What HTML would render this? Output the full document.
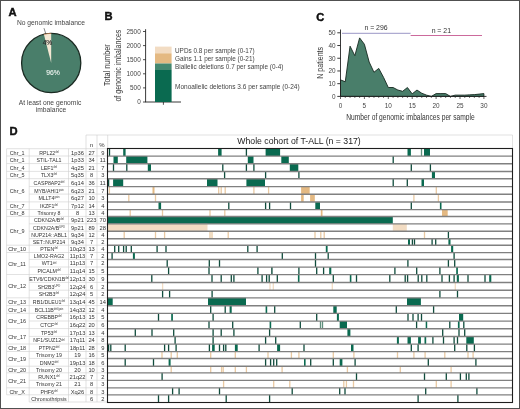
<!DOCTYPE html>
<html><head><meta charset="utf-8"><style>
html,body{margin:0;padding:0;background:#fff;}
body{width:520px;height:409px;overflow:hidden;}
svg{display:block;font-family:"Liberation Sans", sans-serif;will-change:transform;}
</style></head><body>
<svg width="520" height="409" viewBox="0 0 520 409">
<rect x="0" y="0" width="520" height="409" fill="#fff"/>
<text transform="translate(8.60,16.00)" font-size="11.2" text-anchor="start" fill="#111" font-weight="bold" stroke="#111" stroke-width="0.45">A</text>
<text transform="translate(50.90,25.10)" font-size="6.7" text-anchor="middle" fill="#444">No genomic imbalance</text>
<circle cx="51.2" cy="63.0" r="29.6" fill="#497e6a" stroke="#1a2a22" stroke-width="1.3"/>
<path d="M51.2,63.0 L43.84,34.33 A29.6,29.6 0 0 1 51.2,33.4 Z" fill="#f3e7d3"/>
<path d="M43.84,34.33 A29.6,29.6 0 0 1 51.2,33.4" fill="none" stroke="#b07040" stroke-width="0.8"/>
<line x1="44.00" y1="28.20" x2="45.80" y2="33.80" stroke="#333" stroke-width="0.6"/>
<text transform="translate(47.40,45.40)" font-size="6.6" text-anchor="middle" fill="#2a2a2a" stroke="#2a2a2a" stroke-width="0.15">4%</text>
<text transform="translate(53.00,74.70)" font-size="6.8" text-anchor="middle" fill="#eef4f0" stroke="#eef4f0" stroke-width="0.1">96%</text>
<text transform="translate(50.00,104.60)" font-size="6.7" text-anchor="middle" fill="#444">At least one genomic</text>
<text transform="translate(51.00,111.50)" font-size="6.7" text-anchor="middle" fill="#444">imbalance</text>
<text transform="translate(104.60,19.60)" font-size="11.2" text-anchor="start" fill="#111" font-weight="bold" stroke="#111" stroke-width="0.45">B</text>
<line x1="145.60" y1="29.20" x2="145.60" y2="102.00" stroke="#222" stroke-width="0.9"/>
<line x1="145.15" y1="102.00" x2="181.00" y2="102.00" stroke="#222" stroke-width="0.9"/>
<line x1="143.00" y1="102.00" x2="145.60" y2="102.00" stroke="#222" stroke-width="0.8"/>
<text transform="translate(140.70,104.30)" font-size="6.4" text-anchor="end" fill="#444">0</text>
<line x1="143.00" y1="87.90" x2="145.60" y2="87.90" stroke="#222" stroke-width="0.8"/>
<text transform="translate(140.70,90.20)" font-size="6.4" text-anchor="end" fill="#444">500</text>
<line x1="143.00" y1="73.80" x2="145.60" y2="73.80" stroke="#222" stroke-width="0.8"/>
<text transform="translate(140.70,76.10)" font-size="6.4" text-anchor="end" fill="#444">1000</text>
<line x1="143.00" y1="59.70" x2="145.60" y2="59.70" stroke="#222" stroke-width="0.8"/>
<text transform="translate(140.70,62.00)" font-size="6.4" text-anchor="end" fill="#444">1500</text>
<line x1="143.00" y1="45.60" x2="145.60" y2="45.60" stroke="#222" stroke-width="0.8"/>
<text transform="translate(140.70,47.90)" font-size="6.4" text-anchor="end" fill="#444">2000</text>
<line x1="143.00" y1="31.50" x2="145.60" y2="31.50" stroke="#222" stroke-width="0.8"/>
<text transform="translate(140.70,33.80)" font-size="6.4" text-anchor="end" fill="#444">2500</text>
<line x1="163.40" y1="102.00" x2="163.40" y2="104.80" stroke="#222" stroke-width="0.8"/>
<rect x="155.00" y="46.60" width="16.60" height="6.70" fill="#f2dcc3"/>
<rect x="155.00" y="53.30" width="16.60" height="10.20" fill="#e4b982"/>
<rect x="155.00" y="63.50" width="16.60" height="6.50" fill="#448870"/>
<rect x="155.00" y="70.00" width="16.60" height="32.00" fill="#0a6a50"/>
<text transform="translate(109.60,65.20) rotate(-90) scale(0.880,1)" font-size="8.2" text-anchor="middle" fill="#333">Total number</text>
<text transform="translate(121.00,65.60) rotate(-90) scale(0.860,1)" font-size="8.2" text-anchor="middle" fill="#333">of genomic imbalances</text>
<text transform="translate(175.00,52.80)" font-size="6.4" text-anchor="start" fill="#444">UPDs 0.8 per sample (0-17)</text>
<text transform="translate(175.00,61.00)" font-size="6.4" text-anchor="start" fill="#444">Gains 1.1 per sample (0-21)</text>
<text transform="translate(175.00,69.00)" font-size="6.4" text-anchor="start" fill="#444">Biallelic deletions 0.7 per sample (0-4)</text>
<text transform="translate(175.00,88.50) scale(1.020,1)" font-size="6.4" text-anchor="start" fill="#444">Monoallelic deletions 3.6 per sample (0-24)</text>
<text transform="translate(316.20,21.20)" font-size="11.2" text-anchor="start" fill="#111" font-weight="bold" stroke="#111" stroke-width="0.45">C</text>
<polygon points="340.50,96.40 340.50,79.86 345.28,81.77 350.06,46.16 354.84,55.70 359.62,37.89 364.40,44.25 369.18,62.06 373.96,72.23 378.74,68.42 383.52,77.32 388.30,87.50 393.08,87.50 397.86,90.04 402.64,91.31 407.42,87.50 412.20,93.86 416.98,90.04 421.76,93.22 426.54,95.13 431.32,96.40 436.10,93.60 440.88,93.60 445.66,93.60 450.44,96.40 455.22,95.13 460.00,95.13 464.78,95.13 469.56,94.87 474.34,94.62 479.12,94.11 483.90,93.60 483.90,96.40" fill="#497e6a" stroke="#15281f" stroke-width="0.9"/>
<line x1="340.50" y1="29.50" x2="340.50" y2="96.40" stroke="#222" stroke-width="0.9"/>
<line x1="340.50" y1="96.40" x2="486.50" y2="96.40" stroke="#222" stroke-width="0.9"/>
<line x1="337.30" y1="96.40" x2="340.50" y2="96.40" stroke="#222" stroke-width="0.9"/>
<text transform="translate(335.60,98.70)" font-size="6.4" text-anchor="end" fill="#444">0</text>
<line x1="337.30" y1="83.68" x2="340.50" y2="83.68" stroke="#222" stroke-width="0.9"/>
<text transform="translate(335.60,85.98)" font-size="6.4" text-anchor="end" fill="#444">10</text>
<line x1="337.30" y1="70.96" x2="340.50" y2="70.96" stroke="#222" stroke-width="0.9"/>
<text transform="translate(335.60,73.26)" font-size="6.4" text-anchor="end" fill="#444">20</text>
<line x1="337.30" y1="58.24" x2="340.50" y2="58.24" stroke="#222" stroke-width="0.9"/>
<text transform="translate(335.60,60.54)" font-size="6.4" text-anchor="end" fill="#444">30</text>
<line x1="337.30" y1="45.52" x2="340.50" y2="45.52" stroke="#222" stroke-width="0.9"/>
<text transform="translate(335.60,47.82)" font-size="6.4" text-anchor="end" fill="#444">40</text>
<line x1="337.30" y1="32.80" x2="340.50" y2="32.80" stroke="#222" stroke-width="0.9"/>
<text transform="translate(335.60,35.10)" font-size="6.4" text-anchor="end" fill="#444">50</text>
<line x1="340.50" y1="96.40" x2="340.50" y2="99.00" stroke="#222" stroke-width="0.7"/>
<text transform="translate(340.50,108.20)" font-size="6.4" text-anchor="middle" fill="#444">0</text>
<line x1="345.28" y1="96.40" x2="345.28" y2="97.90" stroke="#222" stroke-width="0.7"/>
<line x1="350.06" y1="96.40" x2="350.06" y2="97.90" stroke="#222" stroke-width="0.7"/>
<line x1="354.84" y1="96.40" x2="354.84" y2="97.90" stroke="#222" stroke-width="0.7"/>
<line x1="359.62" y1="96.40" x2="359.62" y2="97.90" stroke="#222" stroke-width="0.7"/>
<line x1="364.40" y1="96.40" x2="364.40" y2="99.00" stroke="#222" stroke-width="0.7"/>
<text transform="translate(364.40,108.20)" font-size="6.4" text-anchor="middle" fill="#444">5</text>
<line x1="369.18" y1="96.40" x2="369.18" y2="97.90" stroke="#222" stroke-width="0.7"/>
<line x1="373.96" y1="96.40" x2="373.96" y2="97.90" stroke="#222" stroke-width="0.7"/>
<line x1="378.74" y1="96.40" x2="378.74" y2="97.90" stroke="#222" stroke-width="0.7"/>
<line x1="383.52" y1="96.40" x2="383.52" y2="97.90" stroke="#222" stroke-width="0.7"/>
<line x1="388.30" y1="96.40" x2="388.30" y2="99.00" stroke="#222" stroke-width="0.7"/>
<text transform="translate(388.30,108.20)" font-size="6.4" text-anchor="middle" fill="#444">10</text>
<line x1="393.08" y1="96.40" x2="393.08" y2="97.90" stroke="#222" stroke-width="0.7"/>
<line x1="397.86" y1="96.40" x2="397.86" y2="97.90" stroke="#222" stroke-width="0.7"/>
<line x1="402.64" y1="96.40" x2="402.64" y2="97.90" stroke="#222" stroke-width="0.7"/>
<line x1="407.42" y1="96.40" x2="407.42" y2="97.90" stroke="#222" stroke-width="0.7"/>
<line x1="412.20" y1="96.40" x2="412.20" y2="99.00" stroke="#222" stroke-width="0.7"/>
<text transform="translate(412.20,108.20)" font-size="6.4" text-anchor="middle" fill="#444">15</text>
<line x1="416.98" y1="96.40" x2="416.98" y2="97.90" stroke="#222" stroke-width="0.7"/>
<line x1="421.76" y1="96.40" x2="421.76" y2="97.90" stroke="#222" stroke-width="0.7"/>
<line x1="426.54" y1="96.40" x2="426.54" y2="97.90" stroke="#222" stroke-width="0.7"/>
<line x1="431.32" y1="96.40" x2="431.32" y2="97.90" stroke="#222" stroke-width="0.7"/>
<line x1="436.10" y1="96.40" x2="436.10" y2="99.00" stroke="#222" stroke-width="0.7"/>
<text transform="translate(436.10,108.20)" font-size="6.4" text-anchor="middle" fill="#444">20</text>
<line x1="440.88" y1="96.40" x2="440.88" y2="97.90" stroke="#222" stroke-width="0.7"/>
<line x1="445.66" y1="96.40" x2="445.66" y2="97.90" stroke="#222" stroke-width="0.7"/>
<line x1="450.44" y1="96.40" x2="450.44" y2="97.90" stroke="#222" stroke-width="0.7"/>
<line x1="455.22" y1="96.40" x2="455.22" y2="97.90" stroke="#222" stroke-width="0.7"/>
<line x1="460.00" y1="96.40" x2="460.00" y2="99.00" stroke="#222" stroke-width="0.7"/>
<text transform="translate(460.00,108.20)" font-size="6.4" text-anchor="middle" fill="#444">25</text>
<line x1="464.78" y1="96.40" x2="464.78" y2="97.90" stroke="#222" stroke-width="0.7"/>
<line x1="469.56" y1="96.40" x2="469.56" y2="97.90" stroke="#222" stroke-width="0.7"/>
<line x1="474.34" y1="96.40" x2="474.34" y2="97.90" stroke="#222" stroke-width="0.7"/>
<line x1="479.12" y1="96.40" x2="479.12" y2="97.90" stroke="#222" stroke-width="0.7"/>
<line x1="483.90" y1="96.40" x2="483.90" y2="99.00" stroke="#222" stroke-width="0.7"/>
<text transform="translate(483.90,108.20)" font-size="6.4" text-anchor="middle" fill="#444">30</text>
<line x1="342.00" y1="33.30" x2="410.60" y2="33.30" stroke="#9a96c6" stroke-width="1.0"/>
<line x1="410.60" y1="35.50" x2="482.00" y2="35.50" stroke="#cc6a9c" stroke-width="1.2"/>
<text transform="translate(376.00,30.10)" font-size="6.9" text-anchor="middle" fill="#333">n = 296</text>
<text transform="translate(441.30,33.00)" font-size="6.9" text-anchor="middle" fill="#333">n = 21</text>
<text transform="translate(410.40,119.90) scale(0.813,1)" font-size="8.2" text-anchor="middle" fill="#333">Number of genomic imbalances per sample</text>
<text transform="translate(322.60,62.80) rotate(-90) scale(0.862,1)" font-size="8.2" text-anchor="middle" fill="#333">N patients</text>
<text transform="translate(9.40,135.00)" font-size="11.2" text-anchor="start" fill="#111" font-weight="bold" stroke="#111" stroke-width="0.45">D</text>
<line x1="6.60" y1="148.70" x2="29.20" y2="148.70" stroke="#cfcfcf" stroke-width="0.6"/>
<line x1="6.60" y1="156.00" x2="29.20" y2="156.00" stroke="#cfcfcf" stroke-width="0.6"/>
<line x1="6.60" y1="163.60" x2="29.20" y2="163.60" stroke="#cfcfcf" stroke-width="0.6"/>
<line x1="6.60" y1="171.40" x2="29.20" y2="171.40" stroke="#cfcfcf" stroke-width="0.6"/>
<line x1="6.60" y1="178.70" x2="29.20" y2="178.70" stroke="#cfcfcf" stroke-width="0.6"/>
<line x1="6.60" y1="201.90" x2="29.20" y2="201.90" stroke="#cfcfcf" stroke-width="0.6"/>
<line x1="6.60" y1="209.50" x2="29.20" y2="209.50" stroke="#cfcfcf" stroke-width="0.6"/>
<line x1="6.60" y1="216.40" x2="29.20" y2="216.40" stroke="#cfcfcf" stroke-width="0.6"/>
<line x1="6.60" y1="245.20" x2="29.20" y2="245.20" stroke="#cfcfcf" stroke-width="0.6"/>
<line x1="6.60" y1="252.50" x2="29.20" y2="252.50" stroke="#cfcfcf" stroke-width="0.6"/>
<line x1="6.60" y1="274.50" x2="29.20" y2="274.50" stroke="#cfcfcf" stroke-width="0.6"/>
<line x1="6.60" y1="297.80" x2="29.20" y2="297.80" stroke="#cfcfcf" stroke-width="0.6"/>
<line x1="6.60" y1="305.60" x2="29.20" y2="305.60" stroke="#cfcfcf" stroke-width="0.6"/>
<line x1="6.60" y1="313.30" x2="29.20" y2="313.30" stroke="#cfcfcf" stroke-width="0.6"/>
<line x1="6.60" y1="328.60" x2="29.20" y2="328.60" stroke="#cfcfcf" stroke-width="0.6"/>
<line x1="6.60" y1="344.00" x2="29.20" y2="344.00" stroke="#cfcfcf" stroke-width="0.6"/>
<line x1="6.60" y1="351.50" x2="29.20" y2="351.50" stroke="#cfcfcf" stroke-width="0.6"/>
<line x1="6.60" y1="366.20" x2="29.20" y2="366.20" stroke="#cfcfcf" stroke-width="0.6"/>
<line x1="6.60" y1="372.80" x2="29.20" y2="372.80" stroke="#cfcfcf" stroke-width="0.6"/>
<line x1="6.60" y1="387.80" x2="29.20" y2="387.80" stroke="#cfcfcf" stroke-width="0.6"/>
<line x1="6.60" y1="394.80" x2="29.20" y2="394.80" stroke="#cfcfcf" stroke-width="0.6"/>
<line x1="29.20" y1="148.70" x2="107.70" y2="148.70" stroke="#cfcfcf" stroke-width="0.6"/>
<line x1="29.20" y1="156.00" x2="107.70" y2="156.00" stroke="#cfcfcf" stroke-width="0.6"/>
<line x1="29.20" y1="163.60" x2="107.70" y2="163.60" stroke="#cfcfcf" stroke-width="0.6"/>
<line x1="29.20" y1="171.40" x2="107.70" y2="171.40" stroke="#cfcfcf" stroke-width="0.6"/>
<line x1="29.20" y1="178.70" x2="107.70" y2="178.70" stroke="#cfcfcf" stroke-width="0.6"/>
<line x1="29.20" y1="186.50" x2="107.70" y2="186.50" stroke="#cfcfcf" stroke-width="0.6"/>
<line x1="29.20" y1="194.10" x2="107.70" y2="194.10" stroke="#cfcfcf" stroke-width="0.6"/>
<line x1="29.20" y1="201.90" x2="107.70" y2="201.90" stroke="#cfcfcf" stroke-width="0.6"/>
<line x1="29.20" y1="209.50" x2="107.70" y2="209.50" stroke="#cfcfcf" stroke-width="0.6"/>
<line x1="29.20" y1="216.40" x2="107.70" y2="216.40" stroke="#cfcfcf" stroke-width="0.6"/>
<line x1="29.20" y1="223.80" x2="107.70" y2="223.80" stroke="#cfcfcf" stroke-width="0.6"/>
<line x1="29.20" y1="231.20" x2="107.70" y2="231.20" stroke="#cfcfcf" stroke-width="0.6"/>
<line x1="29.20" y1="238.60" x2="107.70" y2="238.60" stroke="#cfcfcf" stroke-width="0.6"/>
<line x1="29.20" y1="245.20" x2="107.70" y2="245.20" stroke="#cfcfcf" stroke-width="0.6"/>
<line x1="29.20" y1="252.50" x2="107.70" y2="252.50" stroke="#cfcfcf" stroke-width="0.6"/>
<line x1="29.20" y1="259.40" x2="107.70" y2="259.40" stroke="#cfcfcf" stroke-width="0.6"/>
<line x1="29.20" y1="267.00" x2="107.70" y2="267.00" stroke="#cfcfcf" stroke-width="0.6"/>
<line x1="29.20" y1="274.50" x2="107.70" y2="274.50" stroke="#cfcfcf" stroke-width="0.6"/>
<line x1="29.20" y1="282.40" x2="107.70" y2="282.40" stroke="#cfcfcf" stroke-width="0.6"/>
<line x1="29.20" y1="290.20" x2="107.70" y2="290.20" stroke="#cfcfcf" stroke-width="0.6"/>
<line x1="29.20" y1="297.80" x2="107.70" y2="297.80" stroke="#cfcfcf" stroke-width="0.6"/>
<line x1="29.20" y1="305.60" x2="107.70" y2="305.60" stroke="#cfcfcf" stroke-width="0.6"/>
<line x1="29.20" y1="313.30" x2="107.70" y2="313.30" stroke="#cfcfcf" stroke-width="0.6"/>
<line x1="29.20" y1="321.00" x2="107.70" y2="321.00" stroke="#cfcfcf" stroke-width="0.6"/>
<line x1="29.20" y1="328.60" x2="107.70" y2="328.60" stroke="#cfcfcf" stroke-width="0.6"/>
<line x1="29.20" y1="336.40" x2="107.70" y2="336.40" stroke="#cfcfcf" stroke-width="0.6"/>
<line x1="29.20" y1="344.00" x2="107.70" y2="344.00" stroke="#cfcfcf" stroke-width="0.6"/>
<line x1="29.20" y1="351.50" x2="107.70" y2="351.50" stroke="#cfcfcf" stroke-width="0.6"/>
<line x1="29.20" y1="358.40" x2="107.70" y2="358.40" stroke="#cfcfcf" stroke-width="0.6"/>
<line x1="29.20" y1="366.20" x2="107.70" y2="366.20" stroke="#cfcfcf" stroke-width="0.6"/>
<line x1="29.20" y1="372.80" x2="107.70" y2="372.80" stroke="#cfcfcf" stroke-width="0.6"/>
<line x1="29.20" y1="380.30" x2="107.70" y2="380.30" stroke="#cfcfcf" stroke-width="0.6"/>
<line x1="29.20" y1="387.80" x2="107.70" y2="387.80" stroke="#cfcfcf" stroke-width="0.6"/>
<line x1="29.20" y1="394.80" x2="107.70" y2="394.80" stroke="#cfcfcf" stroke-width="0.6"/>
<line x1="29.20" y1="402.00" x2="107.70" y2="402.00" stroke="#cfcfcf" stroke-width="0.6"/>
<line x1="6.60" y1="148.70" x2="6.60" y2="394.80" stroke="#cfcfcf" stroke-width="0.6"/>
<line x1="29.20" y1="148.70" x2="29.20" y2="402.00" stroke="#cfcfcf" stroke-width="0.6"/>
<line x1="68.50" y1="148.70" x2="68.50" y2="402.00" stroke="#cfcfcf" stroke-width="0.6"/>
<line x1="86.00" y1="148.70" x2="86.00" y2="402.00" stroke="#cfcfcf" stroke-width="0.6"/>
<line x1="97.00" y1="148.70" x2="97.00" y2="402.00" stroke="#cfcfcf" stroke-width="0.6"/>
<line x1="86.00" y1="135.00" x2="86.00" y2="148.70" stroke="#cfcfcf" stroke-width="0.6"/>
<line x1="97.00" y1="135.00" x2="97.00" y2="148.70" stroke="#cfcfcf" stroke-width="0.6"/>
<line x1="107.70" y1="135.00" x2="107.70" y2="148.70" stroke="#cfcfcf" stroke-width="0.6"/>
<line x1="86.00" y1="135.00" x2="512.50" y2="135.00" stroke="#cfcfcf" stroke-width="0.6"/>
<line x1="512.50" y1="135.00" x2="512.50" y2="148.70" stroke="#cfcfcf" stroke-width="0.6"/>
<text transform="translate(91.50,146.60)" font-size="6.0" text-anchor="middle" fill="#333">n</text>
<text transform="translate(102.00,146.60)" font-size="6.0" text-anchor="middle" fill="#333">%</text>
<text transform="translate(299.00,144.20)" font-size="8.7" text-anchor="middle" fill="#222">Whole cohort of T-ALL (n = 317)</text>
<text transform="translate(49.00,154.55) scale(0.850,1)" font-size="6.2" text-anchor="middle" fill="#333">RPL22<tspan font-size="3.2" dy="-1.9" fill="#666" stroke="#666" stroke-width="0.05">del</tspan></text>
<text transform="translate(77.50,154.55) scale(0.930,1)" font-size="6.2" text-anchor="middle" fill="#333">1p36</text>
<text transform="translate(91.60,154.55) scale(0.930,1)" font-size="6.2" text-anchor="middle" fill="#333">27</text>
<text transform="translate(102.80,154.55) scale(0.930,1)" font-size="6.2" text-anchor="middle" fill="#333">9</text>
<text transform="translate(49.00,162.00) scale(0.850,1)" font-size="6.2" text-anchor="middle" fill="#333">STIL-TAL1</text>
<text transform="translate(77.50,162.00) scale(0.930,1)" font-size="6.2" text-anchor="middle" fill="#333">1p33</text>
<text transform="translate(91.60,162.00) scale(0.930,1)" font-size="6.2" text-anchor="middle" fill="#333">34</text>
<text transform="translate(102.80,162.00) scale(0.930,1)" font-size="6.2" text-anchor="middle" fill="#333">11</text>
<text transform="translate(49.00,169.70) scale(0.850,1)" font-size="6.2" text-anchor="middle" fill="#333">LEF1<tspan font-size="3.2" dy="-1.9" fill="#666" stroke="#666" stroke-width="0.05">del</tspan></text>
<text transform="translate(77.50,169.70) scale(0.930,1)" font-size="6.2" text-anchor="middle" fill="#333">4q25</text>
<text transform="translate(91.60,169.70) scale(0.930,1)" font-size="6.2" text-anchor="middle" fill="#333">21</text>
<text transform="translate(102.80,169.70) scale(0.930,1)" font-size="6.2" text-anchor="middle" fill="#333">7</text>
<text transform="translate(49.00,177.25) scale(0.850,1)" font-size="6.2" text-anchor="middle" fill="#333">TLX3<tspan font-size="3.2" dy="-1.9" fill="#666" stroke="#666" stroke-width="0.05">del</tspan></text>
<text transform="translate(77.50,177.25) scale(0.930,1)" font-size="6.2" text-anchor="middle" fill="#333">5q35</text>
<text transform="translate(91.60,177.25) scale(0.930,1)" font-size="6.2" text-anchor="middle" fill="#333">8</text>
<text transform="translate(102.80,177.25) scale(0.930,1)" font-size="6.2" text-anchor="middle" fill="#333">3</text>
<text transform="translate(49.00,184.80) scale(0.850,1)" font-size="6.2" text-anchor="middle" fill="#333">CASP8AP2<tspan font-size="3.2" dy="-1.9" fill="#666" stroke="#666" stroke-width="0.05">del</tspan></text>
<text transform="translate(77.50,184.80) scale(0.930,1)" font-size="6.2" text-anchor="middle" fill="#333">6q14</text>
<text transform="translate(91.60,184.80) scale(0.930,1)" font-size="6.2" text-anchor="middle" fill="#333">36</text>
<text transform="translate(102.80,184.80) scale(0.930,1)" font-size="6.2" text-anchor="middle" fill="#333">11</text>
<text transform="translate(49.00,192.50) scale(0.850,1)" font-size="6.2" text-anchor="middle" fill="#333">MYB/AHI1<tspan font-size="3.2" dy="-1.9" fill="#666" stroke="#666" stroke-width="0.05">gain</tspan></text>
<text transform="translate(77.50,192.50) scale(0.930,1)" font-size="6.2" text-anchor="middle" fill="#333">6q23</text>
<text transform="translate(91.60,192.50) scale(0.930,1)" font-size="6.2" text-anchor="middle" fill="#333">21</text>
<text transform="translate(102.80,192.50) scale(0.930,1)" font-size="6.2" text-anchor="middle" fill="#333">7</text>
<text transform="translate(49.00,200.20) scale(0.850,1)" font-size="6.2" text-anchor="middle" fill="#333">MLLT4<tspan font-size="3.2" dy="-1.9" fill="#666" stroke="#666" stroke-width="0.05">gain</tspan></text>
<text transform="translate(77.50,200.20) scale(0.930,1)" font-size="6.2" text-anchor="middle" fill="#333">6q27</text>
<text transform="translate(91.60,200.20) scale(0.930,1)" font-size="6.2" text-anchor="middle" fill="#333">10</text>
<text transform="translate(102.80,200.20) scale(0.930,1)" font-size="6.2" text-anchor="middle" fill="#333">3</text>
<text transform="translate(49.00,207.90) scale(0.850,1)" font-size="6.2" text-anchor="middle" fill="#333">IKZF1<tspan font-size="3.2" dy="-1.9" fill="#666" stroke="#666" stroke-width="0.05">del</tspan></text>
<text transform="translate(77.50,207.90) scale(0.930,1)" font-size="6.2" text-anchor="middle" fill="#333">7p12</text>
<text transform="translate(91.60,207.90) scale(0.930,1)" font-size="6.2" text-anchor="middle" fill="#333">14</text>
<text transform="translate(102.80,207.90) scale(0.930,1)" font-size="6.2" text-anchor="middle" fill="#333">4</text>
<text transform="translate(49.00,215.15) scale(0.850,1)" font-size="6.2" text-anchor="middle" fill="#333">Trisomy 8</text>
<text transform="translate(77.50,215.15) scale(0.930,1)" font-size="6.2" text-anchor="middle" fill="#333">8</text>
<text transform="translate(91.60,215.15) scale(0.930,1)" font-size="6.2" text-anchor="middle" fill="#333">13</text>
<text transform="translate(102.80,215.15) scale(0.930,1)" font-size="6.2" text-anchor="middle" fill="#333">4</text>
<text transform="translate(49.00,222.30) scale(0.850,1)" font-size="6.2" text-anchor="middle" fill="#333">CDKN2A/B<tspan font-size="3.2" dy="-1.9" fill="#666" stroke="#666" stroke-width="0.05">del</tspan></text>
<text transform="translate(77.50,222.30) scale(0.930,1)" font-size="6.2" text-anchor="middle" fill="#333">9p21</text>
<text transform="translate(91.60,222.30) scale(0.930,1)" font-size="6.2" text-anchor="middle" fill="#333">223</text>
<text transform="translate(102.80,222.30) scale(0.930,1)" font-size="6.2" text-anchor="middle" fill="#333">70</text>
<text transform="translate(49.00,229.70) scale(0.850,1)" font-size="6.2" text-anchor="middle" fill="#333">CDKN2A/B<tspan font-size="3.2" dy="-1.9" fill="#666" stroke="#666" stroke-width="0.05">UPD</tspan></text>
<text transform="translate(77.50,229.70) scale(0.930,1)" font-size="6.2" text-anchor="middle" fill="#333">9p21</text>
<text transform="translate(91.60,229.70) scale(0.930,1)" font-size="6.2" text-anchor="middle" fill="#333">89</text>
<text transform="translate(102.80,229.70) scale(0.930,1)" font-size="6.2" text-anchor="middle" fill="#333">28</text>
<text transform="translate(49.00,237.10) scale(0.850,1)" font-size="6.2" text-anchor="middle" fill="#333">NUP214::ABL1</text>
<text transform="translate(77.50,237.10) scale(0.930,1)" font-size="6.2" text-anchor="middle" fill="#333">9q34</text>
<text transform="translate(91.60,237.10) scale(0.930,1)" font-size="6.2" text-anchor="middle" fill="#333">12</text>
<text transform="translate(102.80,237.10) scale(0.930,1)" font-size="6.2" text-anchor="middle" fill="#333">4</text>
<text transform="translate(49.00,244.10) scale(0.850,1)" font-size="6.2" text-anchor="middle" fill="#333">SET::NUP214</text>
<text transform="translate(77.50,244.10) scale(0.930,1)" font-size="6.2" text-anchor="middle" fill="#333">9q34</text>
<text transform="translate(91.60,244.10) scale(0.930,1)" font-size="6.2" text-anchor="middle" fill="#333">7</text>
<text transform="translate(102.80,244.10) scale(0.930,1)" font-size="6.2" text-anchor="middle" fill="#333">2</text>
<text transform="translate(49.00,251.05) scale(0.850,1)" font-size="6.2" text-anchor="middle" fill="#333">PTEN<tspan font-size="3.2" dy="-1.9" fill="#666" stroke="#666" stroke-width="0.05">del</tspan></text>
<text transform="translate(77.50,251.05) scale(0.930,1)" font-size="6.2" text-anchor="middle" fill="#333">10q23</text>
<text transform="translate(91.60,251.05) scale(0.930,1)" font-size="6.2" text-anchor="middle" fill="#333">13</text>
<text transform="translate(102.80,251.05) scale(0.930,1)" font-size="6.2" text-anchor="middle" fill="#333">4</text>
<text transform="translate(49.00,258.15) scale(0.850,1)" font-size="6.2" text-anchor="middle" fill="#333">LMO2-RAG2</text>
<text transform="translate(77.50,258.15) scale(0.930,1)" font-size="6.2" text-anchor="middle" fill="#333">11p13</text>
<text transform="translate(91.60,258.15) scale(0.930,1)" font-size="6.2" text-anchor="middle" fill="#333">7</text>
<text transform="translate(102.80,258.15) scale(0.930,1)" font-size="6.2" text-anchor="middle" fill="#333">2</text>
<text transform="translate(49.00,265.40) scale(0.850,1)" font-size="6.2" text-anchor="middle" fill="#333">WT1<tspan font-size="3.2" dy="-1.9" fill="#666" stroke="#666" stroke-width="0.05">del</tspan></text>
<text transform="translate(77.50,265.40) scale(0.930,1)" font-size="6.2" text-anchor="middle" fill="#333">11p13</text>
<text transform="translate(91.60,265.40) scale(0.930,1)" font-size="6.2" text-anchor="middle" fill="#333">7</text>
<text transform="translate(102.80,265.40) scale(0.930,1)" font-size="6.2" text-anchor="middle" fill="#333">2</text>
<text transform="translate(49.00,272.95) scale(0.850,1)" font-size="6.2" text-anchor="middle" fill="#333">PICALM<tspan font-size="3.2" dy="-1.9" fill="#666" stroke="#666" stroke-width="0.05">del</tspan></text>
<text transform="translate(77.50,272.95) scale(0.930,1)" font-size="6.2" text-anchor="middle" fill="#333">11q14</text>
<text transform="translate(91.60,272.95) scale(0.930,1)" font-size="6.2" text-anchor="middle" fill="#333">15</text>
<text transform="translate(102.80,272.95) scale(0.930,1)" font-size="6.2" text-anchor="middle" fill="#333">5</text>
<text transform="translate(49.00,280.65) scale(0.850,1)" font-size="6.2" text-anchor="middle" fill="#333">ETV6/CDKN1B<tspan font-size="3.2" dy="-1.9" fill="#666" stroke="#666" stroke-width="0.05">del</tspan></text>
<text transform="translate(77.50,280.65) scale(0.930,1)" font-size="6.2" text-anchor="middle" fill="#333">12p13</text>
<text transform="translate(91.60,280.65) scale(0.930,1)" font-size="6.2" text-anchor="middle" fill="#333">30</text>
<text transform="translate(102.80,280.65) scale(0.930,1)" font-size="6.2" text-anchor="middle" fill="#333">9</text>
<text transform="translate(49.00,288.50) scale(0.850,1)" font-size="6.2" text-anchor="middle" fill="#333">SH2B3<tspan font-size="3.2" dy="-1.9" fill="#666" stroke="#666" stroke-width="0.05">UPD</tspan></text>
<text transform="translate(77.50,288.50) scale(0.930,1)" font-size="6.2" text-anchor="middle" fill="#333">12q24</text>
<text transform="translate(91.60,288.50) scale(0.930,1)" font-size="6.2" text-anchor="middle" fill="#333">6</text>
<text transform="translate(102.80,288.50) scale(0.930,1)" font-size="6.2" text-anchor="middle" fill="#333">2</text>
<text transform="translate(49.00,296.20) scale(0.850,1)" font-size="6.2" text-anchor="middle" fill="#333">SH2B3<tspan font-size="3.2" dy="-1.9" fill="#666" stroke="#666" stroke-width="0.05">del</tspan></text>
<text transform="translate(77.50,296.20) scale(0.930,1)" font-size="6.2" text-anchor="middle" fill="#333">12q24</text>
<text transform="translate(91.60,296.20) scale(0.930,1)" font-size="6.2" text-anchor="middle" fill="#333">5</text>
<text transform="translate(102.80,296.20) scale(0.930,1)" font-size="6.2" text-anchor="middle" fill="#333">2</text>
<text transform="translate(49.00,303.90) scale(0.850,1)" font-size="6.2" text-anchor="middle" fill="#333">RB1/DLEU1<tspan font-size="3.2" dy="-1.9" fill="#666" stroke="#666" stroke-width="0.05">del</tspan></text>
<text transform="translate(77.50,303.90) scale(0.930,1)" font-size="6.2" text-anchor="middle" fill="#333">13q14</text>
<text transform="translate(91.60,303.90) scale(0.930,1)" font-size="6.2" text-anchor="middle" fill="#333">45</text>
<text transform="translate(102.80,303.90) scale(0.930,1)" font-size="6.2" text-anchor="middle" fill="#333">14</text>
<text transform="translate(49.00,311.65) scale(0.850,1)" font-size="6.2" text-anchor="middle" fill="#333">BCL11B<tspan font-size="3.2" dy="-1.9" fill="#666" stroke="#666" stroke-width="0.05">del/gain</tspan></text>
<text transform="translate(77.50,311.65) scale(0.930,1)" font-size="6.2" text-anchor="middle" fill="#333">14q32</text>
<text transform="translate(91.60,311.65) scale(0.930,1)" font-size="6.2" text-anchor="middle" fill="#333">12</text>
<text transform="translate(102.80,311.65) scale(0.930,1)" font-size="6.2" text-anchor="middle" fill="#333">4</text>
<text transform="translate(49.00,319.35) scale(0.850,1)" font-size="6.2" text-anchor="middle" fill="#333">CREBBP<tspan font-size="3.2" dy="-1.9" fill="#666" stroke="#666" stroke-width="0.05">del</tspan></text>
<text transform="translate(77.50,319.35) scale(0.930,1)" font-size="6.2" text-anchor="middle" fill="#333">16p13</text>
<text transform="translate(91.60,319.35) scale(0.930,1)" font-size="6.2" text-anchor="middle" fill="#333">15</text>
<text transform="translate(102.80,319.35) scale(0.930,1)" font-size="6.2" text-anchor="middle" fill="#333">5</text>
<text transform="translate(49.00,327.00) scale(0.850,1)" font-size="6.2" text-anchor="middle" fill="#333">CTCF<tspan font-size="3.2" dy="-1.9" fill="#666" stroke="#666" stroke-width="0.05">del</tspan></text>
<text transform="translate(77.50,327.00) scale(0.930,1)" font-size="6.2" text-anchor="middle" fill="#333">16q22</text>
<text transform="translate(91.60,327.00) scale(0.930,1)" font-size="6.2" text-anchor="middle" fill="#333">20</text>
<text transform="translate(102.80,327.00) scale(0.930,1)" font-size="6.2" text-anchor="middle" fill="#333">6</text>
<text transform="translate(49.00,334.70) scale(0.850,1)" font-size="6.2" text-anchor="middle" fill="#333">TP53<tspan font-size="3.2" dy="-1.9" fill="#666" stroke="#666" stroke-width="0.05">del</tspan></text>
<text transform="translate(77.50,334.70) scale(0.930,1)" font-size="6.2" text-anchor="middle" fill="#333">17p13</text>
<text transform="translate(91.60,334.70) scale(0.930,1)" font-size="6.2" text-anchor="middle" fill="#333">13</text>
<text transform="translate(102.80,334.70) scale(0.930,1)" font-size="6.2" text-anchor="middle" fill="#333">4</text>
<text transform="translate(49.00,342.40) scale(0.850,1)" font-size="6.2" text-anchor="middle" fill="#333">NF1/SUZ12<tspan font-size="3.2" dy="-1.9" fill="#666" stroke="#666" stroke-width="0.05">del</tspan></text>
<text transform="translate(77.50,342.40) scale(0.930,1)" font-size="6.2" text-anchor="middle" fill="#333">17q11</text>
<text transform="translate(91.60,342.40) scale(0.930,1)" font-size="6.2" text-anchor="middle" fill="#333">24</text>
<text transform="translate(102.80,342.40) scale(0.930,1)" font-size="6.2" text-anchor="middle" fill="#333">8</text>
<text transform="translate(49.00,349.95) scale(0.850,1)" font-size="6.2" text-anchor="middle" fill="#333">PTPN2<tspan font-size="3.2" dy="-1.9" fill="#666" stroke="#666" stroke-width="0.05">del</tspan></text>
<text transform="translate(77.50,349.95) scale(0.930,1)" font-size="6.2" text-anchor="middle" fill="#333">18p11</text>
<text transform="translate(91.60,349.95) scale(0.930,1)" font-size="6.2" text-anchor="middle" fill="#333">28</text>
<text transform="translate(102.80,349.95) scale(0.930,1)" font-size="6.2" text-anchor="middle" fill="#333">9</text>
<text transform="translate(49.00,357.15) scale(0.850,1)" font-size="6.2" text-anchor="middle" fill="#333">Trisomy 19</text>
<text transform="translate(77.50,357.15) scale(0.930,1)" font-size="6.2" text-anchor="middle" fill="#333">19</text>
<text transform="translate(91.60,357.15) scale(0.930,1)" font-size="6.2" text-anchor="middle" fill="#333">16</text>
<text transform="translate(102.80,357.15) scale(0.930,1)" font-size="6.2" text-anchor="middle" fill="#333">5</text>
<text transform="translate(49.00,364.50) scale(0.850,1)" font-size="6.2" text-anchor="middle" fill="#333">DNM2<tspan font-size="3.2" dy="-1.9" fill="#666" stroke="#666" stroke-width="0.05">del</tspan></text>
<text transform="translate(77.50,364.50) scale(0.930,1)" font-size="6.2" text-anchor="middle" fill="#333">19p13</text>
<text transform="translate(91.60,364.50) scale(0.930,1)" font-size="6.2" text-anchor="middle" fill="#333">18</text>
<text transform="translate(102.80,364.50) scale(0.930,1)" font-size="6.2" text-anchor="middle" fill="#333">6</text>
<text transform="translate(49.00,371.70) scale(0.850,1)" font-size="6.2" text-anchor="middle" fill="#333">Trisomy 20</text>
<text transform="translate(77.50,371.70) scale(0.930,1)" font-size="6.2" text-anchor="middle" fill="#333">20</text>
<text transform="translate(91.60,371.70) scale(0.930,1)" font-size="6.2" text-anchor="middle" fill="#333">10</text>
<text transform="translate(102.80,371.70) scale(0.930,1)" font-size="6.2" text-anchor="middle" fill="#333">3</text>
<text transform="translate(49.00,378.75) scale(0.850,1)" font-size="6.2" text-anchor="middle" fill="#333">RUNX1<tspan font-size="3.2" dy="-1.9" fill="#666" stroke="#666" stroke-width="0.05">del</tspan></text>
<text transform="translate(77.50,378.75) scale(0.930,1)" font-size="6.2" text-anchor="middle" fill="#333">21q22</text>
<text transform="translate(91.60,378.75) scale(0.930,1)" font-size="6.2" text-anchor="middle" fill="#333">7</text>
<text transform="translate(102.80,378.75) scale(0.930,1)" font-size="6.2" text-anchor="middle" fill="#333">2</text>
<text transform="translate(49.00,386.25) scale(0.850,1)" font-size="6.2" text-anchor="middle" fill="#333">Trisomy 21</text>
<text transform="translate(77.50,386.25) scale(0.930,1)" font-size="6.2" text-anchor="middle" fill="#333">21</text>
<text transform="translate(91.60,386.25) scale(0.930,1)" font-size="6.2" text-anchor="middle" fill="#333">8</text>
<text transform="translate(102.80,386.25) scale(0.930,1)" font-size="6.2" text-anchor="middle" fill="#333">3</text>
<text transform="translate(49.00,393.50) scale(0.850,1)" font-size="6.2" text-anchor="middle" fill="#333">PHF6<tspan font-size="3.2" dy="-1.9" fill="#666" stroke="#666" stroke-width="0.05">del</tspan></text>
<text transform="translate(77.50,393.50) scale(0.930,1)" font-size="6.2" text-anchor="middle" fill="#333">Xq26</text>
<text transform="translate(91.60,393.50) scale(0.930,1)" font-size="6.2" text-anchor="middle" fill="#333">8</text>
<text transform="translate(102.80,393.50) scale(0.930,1)" font-size="6.2" text-anchor="middle" fill="#333">3</text>
<text transform="translate(49.00,400.60) scale(0.850,1)" font-size="6.2" text-anchor="middle" fill="#333">Chromothripsis</text>
<text transform="translate(91.60,400.60) scale(0.930,1)" font-size="6.2" text-anchor="middle" fill="#333">6</text>
<text transform="translate(102.80,400.60) scale(0.930,1)" font-size="6.2" text-anchor="middle" fill="#333">2</text>
<text transform="translate(17.10,154.55) scale(0.880,1)" font-size="6.2" text-anchor="middle" fill="#333">Chr_1</text>
<text transform="translate(17.10,162.00) scale(0.880,1)" font-size="6.2" text-anchor="middle" fill="#333">Chr_1</text>
<text transform="translate(17.10,169.70) scale(0.880,1)" font-size="6.2" text-anchor="middle" fill="#333">Chr_4</text>
<text transform="translate(17.10,177.25) scale(0.880,1)" font-size="6.2" text-anchor="middle" fill="#333">Chr_5</text>
<text transform="translate(17.10,192.50) scale(0.880,1)" font-size="6.2" text-anchor="middle" fill="#333">Chr_6</text>
<text transform="translate(17.10,207.90) scale(0.880,1)" font-size="6.2" text-anchor="middle" fill="#333">Chr_7</text>
<text transform="translate(17.10,215.15) scale(0.880,1)" font-size="6.2" text-anchor="middle" fill="#333">Chr_8</text>
<text transform="translate(17.10,233.00) scale(0.880,1)" font-size="6.2" text-anchor="middle" fill="#333">Chr_9</text>
<text transform="translate(17.10,251.05) scale(0.880,1)" font-size="6.2" text-anchor="middle" fill="#333">Chr_10</text>
<text transform="translate(17.10,265.70) scale(0.880,1)" font-size="6.2" text-anchor="middle" fill="#333">Chr_11</text>
<text transform="translate(17.10,288.35) scale(0.880,1)" font-size="6.2" text-anchor="middle" fill="#333">Chr_12</text>
<text transform="translate(17.10,303.90) scale(0.880,1)" font-size="6.2" text-anchor="middle" fill="#333">Chr_13</text>
<text transform="translate(17.10,311.65) scale(0.880,1)" font-size="6.2" text-anchor="middle" fill="#333">Chr_14</text>
<text transform="translate(17.10,323.15) scale(0.880,1)" font-size="6.2" text-anchor="middle" fill="#333">Chr_16</text>
<text transform="translate(17.10,338.50) scale(0.880,1)" font-size="6.2" text-anchor="middle" fill="#333">Chr_17</text>
<text transform="translate(17.10,349.95) scale(0.880,1)" font-size="6.2" text-anchor="middle" fill="#333">Chr_18</text>
<text transform="translate(17.10,361.05) scale(0.880,1)" font-size="6.2" text-anchor="middle" fill="#333">Chr_19</text>
<text transform="translate(17.10,371.70) scale(0.880,1)" font-size="6.2" text-anchor="middle" fill="#333">Chr_20</text>
<text transform="translate(17.10,382.50) scale(0.880,1)" font-size="6.2" text-anchor="middle" fill="#333">Chr_21</text>
<text transform="translate(17.10,393.50) scale(0.880,1)" font-size="6.2" text-anchor="middle" fill="#333">Chr_X</text>
<rect x="420.85" y="148.70" width="1.30" height="7.30" fill="#5f8f7c"/>
<rect x="108.85" y="148.70" width="1.30" height="7.30" fill="#104c3c"/>
<rect x="245.75" y="148.70" width="1.30" height="7.30" fill="#104c3c"/>
<rect x="123.20" y="148.70" width="2.40" height="7.30" fill="#0a6a50"/>
<rect x="218.10" y="148.70" width="3.50" height="7.30" fill="#0a6a50"/>
<rect x="265.60" y="148.70" width="14.50" height="7.30" fill="#0a6a50"/>
<rect x="407.50" y="148.70" width="3.40" height="7.30" fill="#0a6a50"/>
<rect x="424.00" y="148.70" width="6.00" height="7.30" fill="#0a6a50"/>
<rect x="113.50" y="156.00" width="4.30" height="7.60" fill="#0a6a50"/>
<rect x="126.20" y="156.00" width="21.20" height="7.60" fill="#0a6a50"/>
<rect x="247.80" y="156.00" width="5.70" height="7.60" fill="#0a6a50"/>
<rect x="281.30" y="156.00" width="7.50" height="7.60" fill="#0a6a50"/>
<rect x="392.55" y="156.00" width="1.30" height="7.60" fill="#104c3c"/>
<rect x="112.85" y="163.60" width="1.30" height="7.80" fill="#104c3c"/>
<rect x="126.15" y="163.60" width="1.30" height="7.80" fill="#104c3c"/>
<rect x="222.15" y="163.60" width="1.30" height="7.80" fill="#104c3c"/>
<rect x="245.75" y="163.60" width="1.30" height="7.80" fill="#104c3c"/>
<rect x="253.25" y="163.60" width="1.30" height="7.80" fill="#104c3c"/>
<rect x="410.65" y="163.60" width="1.30" height="7.80" fill="#104c3c"/>
<rect x="429.75" y="163.60" width="1.30" height="7.80" fill="#104c3c"/>
<rect x="147.80" y="163.60" width="3.20" height="7.80" fill="#0a6a50"/>
<rect x="289.80" y="163.60" width="8.50" height="7.80" fill="#0a6a50"/>
<rect x="223.95" y="171.40" width="1.30" height="7.30" fill="#104c3c"/>
<rect x="264.95" y="171.40" width="1.30" height="7.30" fill="#104c3c"/>
<rect x="298.25" y="171.40" width="1.30" height="7.30" fill="#104c3c"/>
<rect x="431.90" y="171.40" width="3.10" height="7.30" fill="#0a6a50"/>
<rect x="107.95" y="178.70" width="1.30" height="7.80" fill="#104c3c"/>
<rect x="392.55" y="178.70" width="1.30" height="7.80" fill="#104c3c"/>
<rect x="406.65" y="178.70" width="1.30" height="7.80" fill="#104c3c"/>
<rect x="113.10" y="178.70" width="10.10" height="7.80" fill="#0a6a50"/>
<rect x="207.00" y="178.70" width="10.50" height="7.80" fill="#0a6a50"/>
<rect x="246.40" y="178.70" width="18.60" height="7.80" fill="#0a6a50"/>
<rect x="421.50" y="178.70" width="2.50" height="7.80" fill="#0a6a50"/>
<rect x="108.75" y="186.50" width="1.30" height="7.60" fill="#e9c9a2"/>
<rect x="218.05" y="186.50" width="1.30" height="7.60" fill="#e9c9a2"/>
<rect x="220.55" y="186.50" width="1.30" height="7.60" fill="#e9c9a2"/>
<rect x="224.55" y="186.50" width="1.30" height="7.60" fill="#e9c9a2"/>
<rect x="253.25" y="186.50" width="1.30" height="7.60" fill="#e9c9a2"/>
<rect x="267.95" y="186.50" width="1.30" height="7.60" fill="#e9c9a2"/>
<rect x="435.65" y="186.50" width="1.30" height="7.60" fill="#e9c9a2"/>
<rect x="152.50" y="186.50" width="2.00" height="7.60" fill="#e4b982"/>
<rect x="301.10" y="186.50" width="8.60" height="7.60" fill="#e4b982"/>
<rect x="128.15" y="194.10" width="1.30" height="7.80" fill="#e9c9a2"/>
<rect x="154.85" y="194.10" width="1.30" height="7.80" fill="#e9c9a2"/>
<rect x="413.25" y="194.10" width="1.30" height="7.80" fill="#e9c9a2"/>
<rect x="437.75" y="194.10" width="1.30" height="7.80" fill="#e9c9a2"/>
<rect x="301.10" y="194.10" width="2.60" height="7.80" fill="#e4b982"/>
<rect x="310.10" y="194.10" width="4.70" height="7.80" fill="#e4b982"/>
<rect x="228.15" y="201.90" width="1.30" height="7.60" fill="#104c3c"/>
<rect x="264.95" y="201.90" width="1.30" height="7.60" fill="#104c3c"/>
<rect x="268.95" y="201.90" width="1.30" height="7.60" fill="#104c3c"/>
<rect x="289.85" y="201.90" width="1.30" height="7.60" fill="#104c3c"/>
<rect x="410.65" y="201.90" width="1.30" height="7.60" fill="#104c3c"/>
<rect x="158.50" y="201.90" width="2.60" height="7.60" fill="#0a6a50"/>
<rect x="315.30" y="201.90" width="4.70" height="7.60" fill="#0a6a50"/>
<rect x="439.90" y="201.90" width="1.60" height="7.60" fill="#0a6a50"/>
<rect x="129.55" y="209.50" width="1.30" height="6.90" fill="#e9c9a2"/>
<rect x="161.85" y="209.50" width="1.30" height="6.90" fill="#e9c9a2"/>
<rect x="209.35" y="209.50" width="1.30" height="6.90" fill="#e9c9a2"/>
<rect x="224.15" y="209.50" width="1.30" height="6.90" fill="#e9c9a2"/>
<rect x="320.80" y="209.50" width="1.70" height="6.90" fill="#e4b982"/>
<rect x="442.00" y="209.50" width="5.70" height="6.90" fill="#e4b982"/>
<rect x="107.70" y="216.40" width="285.10" height="7.40" fill="#0a6a50"/>
<rect x="107.70" y="223.80" width="99.80" height="7.40" fill="#f2dcc3"/>
<rect x="392.80" y="223.80" width="14.00" height="7.40" fill="#f2dcc3"/>
<rect x="123.55" y="231.20" width="1.30" height="7.40" fill="#e9c9a2"/>
<rect x="154.85" y="231.20" width="1.30" height="7.40" fill="#e9c9a2"/>
<rect x="163.95" y="231.20" width="1.30" height="7.40" fill="#e9c9a2"/>
<rect x="209.35" y="231.20" width="1.30" height="7.40" fill="#e9c9a2"/>
<rect x="211.35" y="231.20" width="1.30" height="7.40" fill="#e9c9a2"/>
<rect x="227.55" y="231.20" width="1.30" height="7.40" fill="#e9c9a2"/>
<rect x="314.35" y="231.20" width="1.30" height="7.40" fill="#e9c9a2"/>
<rect x="320.15" y="231.20" width="1.30" height="7.40" fill="#e9c9a2"/>
<rect x="323.55" y="231.20" width="1.30" height="7.40" fill="#e9c9a2"/>
<rect x="423.85" y="231.20" width="1.30" height="7.40" fill="#e9c9a2"/>
<rect x="447.75" y="231.20" width="1.30" height="7.40" fill="#104c3c"/>
<rect x="411.75" y="238.60" width="1.30" height="6.60" fill="#104c3c"/>
<rect x="413.85" y="238.60" width="1.30" height="6.60" fill="#104c3c"/>
<rect x="431.45" y="238.60" width="1.30" height="6.60" fill="#104c3c"/>
<rect x="435.05" y="238.60" width="1.30" height="6.60" fill="#104c3c"/>
<rect x="408.00" y="238.60" width="2.00" height="6.60" fill="#0a6a50"/>
<rect x="448.40" y="238.60" width="2.10" height="6.60" fill="#0a6a50"/>
<rect x="114.05" y="245.20" width="1.30" height="7.30" fill="#104c3c"/>
<rect x="118.05" y="245.20" width="1.30" height="7.30" fill="#104c3c"/>
<rect x="122.95" y="245.20" width="1.30" height="7.30" fill="#104c3c"/>
<rect x="125.55" y="245.20" width="1.30" height="7.30" fill="#104c3c"/>
<rect x="130.65" y="245.20" width="1.30" height="7.30" fill="#104c3c"/>
<rect x="156.45" y="245.20" width="1.30" height="7.30" fill="#104c3c"/>
<rect x="165.35" y="245.20" width="1.30" height="7.30" fill="#104c3c"/>
<rect x="247.15" y="245.20" width="1.30" height="7.30" fill="#104c3c"/>
<rect x="256.45" y="245.20" width="1.30" height="7.30" fill="#104c3c"/>
<rect x="325.80" y="245.20" width="1.80" height="7.30" fill="#0a6a50"/>
<rect x="451.10" y="245.20" width="2.10" height="7.30" fill="#0a6a50"/>
<rect x="111.45" y="252.50" width="1.30" height="6.90" fill="#104c3c"/>
<rect x="281.65" y="252.50" width="1.30" height="6.90" fill="#104c3c"/>
<rect x="314.85" y="252.50" width="1.30" height="6.90" fill="#104c3c"/>
<rect x="327.55" y="252.50" width="1.30" height="6.90" fill="#104c3c"/>
<rect x="453.45" y="252.50" width="1.30" height="6.90" fill="#104c3c"/>
<rect x="132.90" y="252.50" width="2.00" height="6.90" fill="#0a6a50"/>
<rect x="166.55" y="259.40" width="1.30" height="7.60" fill="#104c3c"/>
<rect x="208.65" y="259.40" width="1.30" height="7.60" fill="#104c3c"/>
<rect x="218.85" y="259.40" width="1.30" height="7.60" fill="#104c3c"/>
<rect x="314.85" y="259.40" width="1.30" height="7.60" fill="#104c3c"/>
<rect x="407.25" y="259.40" width="1.30" height="7.60" fill="#104c3c"/>
<rect x="447.75" y="259.40" width="1.30" height="7.60" fill="#104c3c"/>
<rect x="454.05" y="259.40" width="1.30" height="7.60" fill="#104c3c"/>
<rect x="167.95" y="267.00" width="1.30" height="7.50" fill="#104c3c"/>
<rect x="208.35" y="267.00" width="1.30" height="7.50" fill="#104c3c"/>
<rect x="257.25" y="267.00" width="1.30" height="7.50" fill="#104c3c"/>
<rect x="298.25" y="267.00" width="1.30" height="7.50" fill="#104c3c"/>
<rect x="316.05" y="267.00" width="1.30" height="7.50" fill="#104c3c"/>
<rect x="322.95" y="267.00" width="1.30" height="7.50" fill="#104c3c"/>
<rect x="394.25" y="267.00" width="1.30" height="7.50" fill="#104c3c"/>
<rect x="416.05" y="267.00" width="1.30" height="7.50" fill="#104c3c"/>
<rect x="439.25" y="267.00" width="1.30" height="7.50" fill="#104c3c"/>
<rect x="271.20" y="267.00" width="1.40" height="7.50" fill="#104c3c"/>
<rect x="329.20" y="267.00" width="2.10" height="7.50" fill="#0a6a50"/>
<rect x="456.20" y="267.00" width="1.70" height="7.50" fill="#0a6a50"/>
<rect x="151.15" y="274.50" width="1.30" height="7.90" fill="#104c3c"/>
<rect x="211.35" y="274.50" width="1.30" height="7.90" fill="#104c3c"/>
<rect x="220.55" y="274.50" width="1.30" height="7.90" fill="#104c3c"/>
<rect x="230.65" y="274.50" width="1.30" height="7.90" fill="#104c3c"/>
<rect x="233.25" y="274.50" width="1.30" height="7.90" fill="#104c3c"/>
<rect x="261.45" y="274.50" width="1.30" height="7.90" fill="#104c3c"/>
<rect x="265.95" y="274.50" width="1.30" height="7.90" fill="#104c3c"/>
<rect x="268.55" y="274.50" width="1.30" height="7.90" fill="#104c3c"/>
<rect x="276.65" y="274.50" width="1.30" height="7.90" fill="#104c3c"/>
<rect x="332.65" y="274.50" width="1.30" height="7.90" fill="#104c3c"/>
<rect x="355.85" y="274.50" width="1.30" height="7.90" fill="#104c3c"/>
<rect x="389.15" y="274.50" width="1.30" height="7.90" fill="#104c3c"/>
<rect x="404.55" y="274.50" width="1.30" height="7.90" fill="#104c3c"/>
<rect x="406.95" y="274.50" width="1.30" height="7.90" fill="#104c3c"/>
<rect x="417.55" y="274.50" width="1.30" height="7.90" fill="#104c3c"/>
<rect x="421.15" y="274.50" width="1.30" height="7.90" fill="#104c3c"/>
<rect x="426.15" y="274.50" width="1.30" height="7.90" fill="#104c3c"/>
<rect x="441.35" y="274.50" width="1.30" height="7.90" fill="#104c3c"/>
<rect x="448.75" y="274.50" width="1.30" height="7.90" fill="#104c3c"/>
<rect x="453.45" y="274.50" width="1.30" height="7.90" fill="#104c3c"/>
<rect x="467.35" y="274.50" width="1.30" height="7.90" fill="#104c3c"/>
<rect x="484.35" y="274.50" width="1.30" height="7.90" fill="#104c3c"/>
<rect x="297.90" y="274.50" width="1.60" height="7.90" fill="#0a6a50"/>
<rect x="349.80" y="274.50" width="1.60" height="7.90" fill="#0a6a50"/>
<rect x="456.80" y="274.50" width="2.10" height="7.90" fill="#0a6a50"/>
<rect x="489.20" y="274.50" width="2.10" height="7.90" fill="#0a6a50"/>
<rect x="161.95" y="282.40" width="1.30" height="7.80" fill="#f2dcc3"/>
<rect x="269.35" y="282.40" width="1.30" height="7.80" fill="#f2dcc3"/>
<rect x="272.65" y="282.40" width="1.30" height="7.80" fill="#f2dcc3"/>
<rect x="331.65" y="282.40" width="1.30" height="7.80" fill="#f2dcc3"/>
<rect x="454.65" y="282.40" width="1.30" height="7.80" fill="#f2dcc3"/>
<rect x="161.95" y="290.20" width="1.30" height="7.60" fill="#104c3c"/>
<rect x="168.95" y="290.20" width="1.30" height="7.60" fill="#104c3c"/>
<rect x="211.45" y="290.20" width="1.30" height="7.60" fill="#104c3c"/>
<rect x="439.25" y="290.20" width="1.30" height="7.60" fill="#104c3c"/>
<rect x="456.85" y="290.20" width="1.30" height="7.60" fill="#104c3c"/>
<rect x="107.70" y="297.80" width="5.00" height="7.80" fill="#0a6a50"/>
<rect x="208.00" y="297.80" width="38.00" height="7.80" fill="#0a6a50"/>
<rect x="407.00" y="297.80" width="13.90" height="7.80" fill="#0a6a50"/>
<rect x="210.05" y="305.60" width="1.30" height="7.70" fill="#104c3c"/>
<rect x="224.55" y="305.60" width="1.30" height="7.70" fill="#104c3c"/>
<rect x="274.05" y="305.60" width="1.30" height="7.70" fill="#104c3c"/>
<rect x="395.65" y="305.60" width="1.30" height="7.70" fill="#104c3c"/>
<rect x="432.95" y="305.60" width="1.30" height="7.70" fill="#104c3c"/>
<rect x="229.60" y="305.60" width="2.10" height="7.70" fill="#0a6a50"/>
<rect x="265.60" y="305.60" width="1.60" height="7.70" fill="#0a6a50"/>
<rect x="333.30" y="305.60" width="3.40" height="7.70" fill="#0a6a50"/>
<rect x="157.85" y="313.30" width="1.30" height="7.70" fill="#104c3c"/>
<rect x="212.45" y="313.30" width="1.30" height="7.70" fill="#104c3c"/>
<rect x="316.05" y="313.30" width="1.30" height="7.70" fill="#104c3c"/>
<rect x="407.35" y="313.30" width="1.30" height="7.70" fill="#104c3c"/>
<rect x="412.35" y="313.30" width="1.30" height="7.70" fill="#104c3c"/>
<rect x="417.45" y="313.30" width="1.30" height="7.70" fill="#104c3c"/>
<rect x="420.85" y="313.30" width="1.30" height="7.70" fill="#104c3c"/>
<rect x="171.20" y="313.30" width="1.70" height="7.70" fill="#0a6a50"/>
<rect x="336.90" y="313.30" width="2.00" height="7.70" fill="#0a6a50"/>
<rect x="459.00" y="313.30" width="4.20" height="7.70" fill="#0a6a50"/>
<rect x="208.35" y="321.00" width="1.30" height="7.60" fill="#104c3c"/>
<rect x="232.05" y="321.00" width="1.30" height="7.60" fill="#104c3c"/>
<rect x="299.65" y="321.00" width="1.30" height="7.60" fill="#104c3c"/>
<rect x="415.95" y="321.00" width="1.30" height="7.60" fill="#104c3c"/>
<rect x="449.15" y="321.00" width="1.30" height="7.60" fill="#104c3c"/>
<rect x="463.15" y="321.00" width="1.30" height="7.60" fill="#104c3c"/>
<rect x="319.85" y="321.00" width="1.30" height="7.60" fill="#5f8f7c"/>
<rect x="321.85" y="321.00" width="1.30" height="7.60" fill="#5f8f7c"/>
<rect x="269.60" y="321.00" width="1.60" height="7.60" fill="#0a6a50"/>
<rect x="339.70" y="321.00" width="7.30" height="7.60" fill="#0a6a50"/>
<rect x="425.70" y="321.00" width="1.50" height="7.60" fill="#0a6a50"/>
<rect x="457.90" y="321.00" width="1.70" height="7.60" fill="#0a6a50"/>
<rect x="134.65" y="328.60" width="1.30" height="7.80" fill="#104c3c"/>
<rect x="151.35" y="328.60" width="1.30" height="7.80" fill="#104c3c"/>
<rect x="173.05" y="328.60" width="1.30" height="7.80" fill="#104c3c"/>
<rect x="212.45" y="328.60" width="1.30" height="7.80" fill="#104c3c"/>
<rect x="220.55" y="328.60" width="1.30" height="7.80" fill="#104c3c"/>
<rect x="233.25" y="328.60" width="1.30" height="7.80" fill="#104c3c"/>
<rect x="268.95" y="328.60" width="1.30" height="7.80" fill="#104c3c"/>
<rect x="442.05" y="328.60" width="1.30" height="7.80" fill="#104c3c"/>
<rect x="458.35" y="328.60" width="1.30" height="7.80" fill="#104c3c"/>
<rect x="464.05" y="328.60" width="1.30" height="7.80" fill="#104c3c"/>
<rect x="347.40" y="328.60" width="3.00" height="7.80" fill="#0a6a50"/>
<rect x="174.45" y="336.40" width="1.30" height="7.60" fill="#104c3c"/>
<rect x="212.45" y="336.40" width="1.30" height="7.60" fill="#104c3c"/>
<rect x="264.95" y="336.40" width="1.30" height="7.60" fill="#104c3c"/>
<rect x="275.05" y="336.40" width="1.30" height="7.60" fill="#104c3c"/>
<rect x="432.25" y="336.40" width="1.30" height="7.60" fill="#104c3c"/>
<rect x="442.85" y="336.40" width="1.30" height="7.60" fill="#104c3c"/>
<rect x="453.45" y="336.40" width="1.30" height="7.60" fill="#104c3c"/>
<rect x="456.85" y="336.40" width="1.30" height="7.60" fill="#104c3c"/>
<rect x="396.90" y="336.40" width="2.00" height="7.60" fill="#0a6a50"/>
<rect x="407.50" y="336.40" width="3.40" height="7.60" fill="#0a6a50"/>
<rect x="418.10" y="336.40" width="2.80" height="7.60" fill="#0a6a50"/>
<rect x="424.50" y="336.40" width="1.70" height="7.60" fill="#0a6a50"/>
<rect x="466.30" y="336.40" width="7.50" height="7.60" fill="#0a6a50"/>
<rect x="107.95" y="344.00" width="1.30" height="7.50" fill="#104c3c"/>
<rect x="110.15" y="344.00" width="1.30" height="7.50" fill="#104c3c"/>
<rect x="124.55" y="344.00" width="1.30" height="7.50" fill="#104c3c"/>
<rect x="163.95" y="344.00" width="1.30" height="7.50" fill="#104c3c"/>
<rect x="167.95" y="344.00" width="1.30" height="7.50" fill="#104c3c"/>
<rect x="175.45" y="344.00" width="1.30" height="7.50" fill="#104c3c"/>
<rect x="208.75" y="344.00" width="1.30" height="7.50" fill="#104c3c"/>
<rect x="218.85" y="344.00" width="1.30" height="7.50" fill="#104c3c"/>
<rect x="222.95" y="344.00" width="1.30" height="7.50" fill="#104c3c"/>
<rect x="225.15" y="344.00" width="1.30" height="7.50" fill="#104c3c"/>
<rect x="258.45" y="344.00" width="1.30" height="7.50" fill="#104c3c"/>
<rect x="303.35" y="344.00" width="1.30" height="7.50" fill="#104c3c"/>
<rect x="410.65" y="344.00" width="1.30" height="7.50" fill="#104c3c"/>
<rect x="417.45" y="344.00" width="1.30" height="7.50" fill="#104c3c"/>
<rect x="454.05" y="344.00" width="1.30" height="7.50" fill="#104c3c"/>
<rect x="466.15" y="344.00" width="1.30" height="7.50" fill="#104c3c"/>
<rect x="473.75" y="344.00" width="1.30" height="7.50" fill="#104c3c"/>
<rect x="212.10" y="344.00" width="2.60" height="7.50" fill="#0a6a50"/>
<rect x="234.90" y="344.00" width="2.80" height="7.50" fill="#0a6a50"/>
<rect x="277.10" y="344.00" width="3.00" height="7.50" fill="#0a6a50"/>
<rect x="351.00" y="344.00" width="2.50" height="7.50" fill="#0a6a50"/>
<rect x="161.35" y="351.50" width="1.30" height="6.90" fill="#e9c9a2"/>
<rect x="170.55" y="351.50" width="1.30" height="6.90" fill="#e9c9a2"/>
<rect x="176.65" y="351.50" width="1.30" height="6.90" fill="#e9c9a2"/>
<rect x="210.05" y="351.50" width="1.30" height="6.90" fill="#e9c9a2"/>
<rect x="234.65" y="351.50" width="1.30" height="6.90" fill="#e9c9a2"/>
<rect x="267.35" y="351.50" width="1.30" height="6.90" fill="#e9c9a2"/>
<rect x="290.75" y="351.50" width="1.30" height="6.90" fill="#e9c9a2"/>
<rect x="298.25" y="351.50" width="1.30" height="6.90" fill="#e9c9a2"/>
<rect x="332.65" y="351.50" width="1.30" height="6.90" fill="#e9c9a2"/>
<rect x="353.25" y="351.50" width="1.30" height="6.90" fill="#e9c9a2"/>
<rect x="396.85" y="351.50" width="1.30" height="6.90" fill="#e9c9a2"/>
<rect x="413.25" y="351.50" width="1.30" height="6.90" fill="#e9c9a2"/>
<rect x="424.45" y="351.50" width="1.30" height="6.90" fill="#e9c9a2"/>
<rect x="444.15" y="351.50" width="1.30" height="6.90" fill="#e9c9a2"/>
<rect x="467.35" y="351.50" width="1.30" height="6.90" fill="#e9c9a2"/>
<rect x="472.45" y="351.50" width="1.30" height="6.90" fill="#e9c9a2"/>
<rect x="124.55" y="358.40" width="1.30" height="7.80" fill="#104c3c"/>
<rect x="152.85" y="358.40" width="1.30" height="7.80" fill="#104c3c"/>
<rect x="264.95" y="358.40" width="1.30" height="7.80" fill="#104c3c"/>
<rect x="269.95" y="358.40" width="1.30" height="7.80" fill="#104c3c"/>
<rect x="273.05" y="358.40" width="1.30" height="7.80" fill="#104c3c"/>
<rect x="276.05" y="358.40" width="1.30" height="7.80" fill="#104c3c"/>
<rect x="310.05" y="358.40" width="1.30" height="7.80" fill="#104c3c"/>
<rect x="332.65" y="358.40" width="1.30" height="7.80" fill="#104c3c"/>
<rect x="354.45" y="358.40" width="1.30" height="7.80" fill="#104c3c"/>
<rect x="427.65" y="358.40" width="1.30" height="7.80" fill="#104c3c"/>
<rect x="475.25" y="358.40" width="1.30" height="7.80" fill="#104c3c"/>
<rect x="168.60" y="358.40" width="2.00" height="7.80" fill="#0a6a50"/>
<rect x="304.00" y="358.40" width="1.60" height="7.80" fill="#0a6a50"/>
<rect x="339.70" y="358.40" width="2.70" height="7.80" fill="#0a6a50"/>
<rect x="170.55" y="366.20" width="1.30" height="6.60" fill="#e9c9a2"/>
<rect x="210.05" y="366.20" width="1.30" height="6.60" fill="#e9c9a2"/>
<rect x="220.95" y="366.20" width="1.30" height="6.60" fill="#e9c9a2"/>
<rect x="222.55" y="366.20" width="1.30" height="6.60" fill="#e9c9a2"/>
<rect x="234.65" y="366.20" width="1.30" height="6.60" fill="#e9c9a2"/>
<rect x="245.75" y="366.20" width="1.30" height="6.60" fill="#e9c9a2"/>
<rect x="281.45" y="366.20" width="1.30" height="6.60" fill="#e9c9a2"/>
<rect x="346.75" y="366.20" width="1.30" height="6.60" fill="#e9c9a2"/>
<rect x="399.65" y="366.20" width="1.30" height="6.60" fill="#e9c9a2"/>
<rect x="450.45" y="366.20" width="1.30" height="6.60" fill="#e9c9a2"/>
<rect x="161.45" y="372.80" width="1.30" height="7.50" fill="#104c3c"/>
<rect x="355.85" y="372.80" width="1.30" height="7.50" fill="#104c3c"/>
<rect x="423.85" y="372.80" width="1.30" height="7.50" fill="#104c3c"/>
<rect x="445.65" y="372.80" width="1.30" height="7.50" fill="#104c3c"/>
<rect x="459.75" y="372.80" width="1.30" height="7.50" fill="#104c3c"/>
<rect x="465.65" y="372.80" width="1.30" height="7.50" fill="#104c3c"/>
<rect x="468.25" y="372.80" width="1.30" height="7.50" fill="#104c3c"/>
<rect x="222.95" y="380.30" width="1.30" height="7.50" fill="#e9c9a2"/>
<rect x="273.05" y="380.30" width="1.30" height="7.50" fill="#e9c9a2"/>
<rect x="289.15" y="380.30" width="1.30" height="7.50" fill="#e9c9a2"/>
<rect x="343.15" y="380.30" width="1.30" height="7.50" fill="#e9c9a2"/>
<rect x="345.75" y="380.30" width="1.30" height="7.50" fill="#e9c9a2"/>
<rect x="352.85" y="380.30" width="1.30" height="7.50" fill="#e9c9a2"/>
<rect x="435.65" y="380.30" width="1.30" height="7.50" fill="#e9c9a2"/>
<rect x="450.45" y="380.30" width="1.30" height="7.50" fill="#e9c9a2"/>
<rect x="171.95" y="387.80" width="1.30" height="7.00" fill="#104c3c"/>
<rect x="178.45" y="387.80" width="1.30" height="7.00" fill="#104c3c"/>
<rect x="218.85" y="387.80" width="1.30" height="7.00" fill="#104c3c"/>
<rect x="291.55" y="387.80" width="1.30" height="7.00" fill="#104c3c"/>
<rect x="339.05" y="387.80" width="1.30" height="7.00" fill="#104c3c"/>
<rect x="344.35" y="387.80" width="1.30" height="7.00" fill="#104c3c"/>
<rect x="425.05" y="387.80" width="1.30" height="7.00" fill="#104c3c"/>
<rect x="476.25" y="387.80" width="1.30" height="7.00" fill="#104c3c"/>
<rect x="157.85" y="394.80" width="1.30" height="7.20" fill="#104c3c"/>
<rect x="167.95" y="394.80" width="1.30" height="7.20" fill="#104c3c"/>
<rect x="225.55" y="394.80" width="1.30" height="7.20" fill="#104c3c"/>
<rect x="268.95" y="394.80" width="1.30" height="7.20" fill="#104c3c"/>
<rect x="417.45" y="394.80" width="1.30" height="7.20" fill="#104c3c"/>
<rect x="457.25" y="394.80" width="1.30" height="7.20" fill="#104c3c"/>
<line x1="107.70" y1="156.10" x2="512.50" y2="156.10" stroke="#808080" stroke-width="1.4"/>
<line x1="107.70" y1="163.70" x2="512.50" y2="163.70" stroke="#808080" stroke-width="1.4"/>
<line x1="107.70" y1="171.50" x2="512.50" y2="171.50" stroke="#808080" stroke-width="1.4"/>
<line x1="107.70" y1="178.80" x2="512.50" y2="178.80" stroke="#808080" stroke-width="1.4"/>
<line x1="107.70" y1="186.60" x2="512.50" y2="186.60" stroke="#808080" stroke-width="1.4"/>
<line x1="107.70" y1="194.20" x2="512.50" y2="194.20" stroke="#808080" stroke-width="1.4"/>
<line x1="107.70" y1="202.00" x2="512.50" y2="202.00" stroke="#808080" stroke-width="1.4"/>
<line x1="107.70" y1="209.60" x2="512.50" y2="209.60" stroke="#808080" stroke-width="1.4"/>
<line x1="107.70" y1="216.50" x2="512.50" y2="216.50" stroke="#808080" stroke-width="1.4"/>
<line x1="107.70" y1="223.90" x2="512.50" y2="223.90" stroke="#808080" stroke-width="1.4"/>
<line x1="107.70" y1="231.30" x2="512.50" y2="231.30" stroke="#808080" stroke-width="1.4"/>
<line x1="107.70" y1="238.70" x2="512.50" y2="238.70" stroke="#808080" stroke-width="1.4"/>
<line x1="107.70" y1="245.30" x2="512.50" y2="245.30" stroke="#808080" stroke-width="1.4"/>
<line x1="107.70" y1="252.60" x2="512.50" y2="252.60" stroke="#808080" stroke-width="1.4"/>
<line x1="107.70" y1="259.50" x2="512.50" y2="259.50" stroke="#808080" stroke-width="1.4"/>
<line x1="107.70" y1="267.10" x2="512.50" y2="267.10" stroke="#808080" stroke-width="1.4"/>
<line x1="107.70" y1="274.60" x2="512.50" y2="274.60" stroke="#808080" stroke-width="1.4"/>
<line x1="107.70" y1="282.50" x2="512.50" y2="282.50" stroke="#808080" stroke-width="1.4"/>
<line x1="107.70" y1="290.30" x2="512.50" y2="290.30" stroke="#808080" stroke-width="1.4"/>
<line x1="107.70" y1="297.90" x2="512.50" y2="297.90" stroke="#808080" stroke-width="1.4"/>
<line x1="107.70" y1="305.70" x2="512.50" y2="305.70" stroke="#808080" stroke-width="1.4"/>
<line x1="107.70" y1="313.40" x2="512.50" y2="313.40" stroke="#808080" stroke-width="1.4"/>
<line x1="107.70" y1="321.10" x2="512.50" y2="321.10" stroke="#808080" stroke-width="1.4"/>
<line x1="107.70" y1="328.70" x2="512.50" y2="328.70" stroke="#808080" stroke-width="1.4"/>
<line x1="107.70" y1="336.50" x2="512.50" y2="336.50" stroke="#808080" stroke-width="1.4"/>
<line x1="107.70" y1="344.10" x2="512.50" y2="344.10" stroke="#808080" stroke-width="1.4"/>
<line x1="107.70" y1="351.60" x2="512.50" y2="351.60" stroke="#808080" stroke-width="1.4"/>
<line x1="107.70" y1="358.50" x2="512.50" y2="358.50" stroke="#808080" stroke-width="1.4"/>
<line x1="107.70" y1="366.30" x2="512.50" y2="366.30" stroke="#808080" stroke-width="1.4"/>
<line x1="107.70" y1="372.90" x2="512.50" y2="372.90" stroke="#808080" stroke-width="1.4"/>
<line x1="107.70" y1="380.40" x2="512.50" y2="380.40" stroke="#808080" stroke-width="1.4"/>
<line x1="107.70" y1="387.90" x2="512.50" y2="387.90" stroke="#808080" stroke-width="1.4"/>
<line x1="107.70" y1="394.90" x2="512.50" y2="394.90" stroke="#808080" stroke-width="1.4"/>
<rect x="107.5" y="148.5" width="405" height="254" fill="none" stroke="#1e1e1e" stroke-width="1.1"/>
<rect x="0.5" y="0.5" width="519" height="408" fill="none" stroke="#505050" stroke-width="1"/>
</svg>
</body></html>
